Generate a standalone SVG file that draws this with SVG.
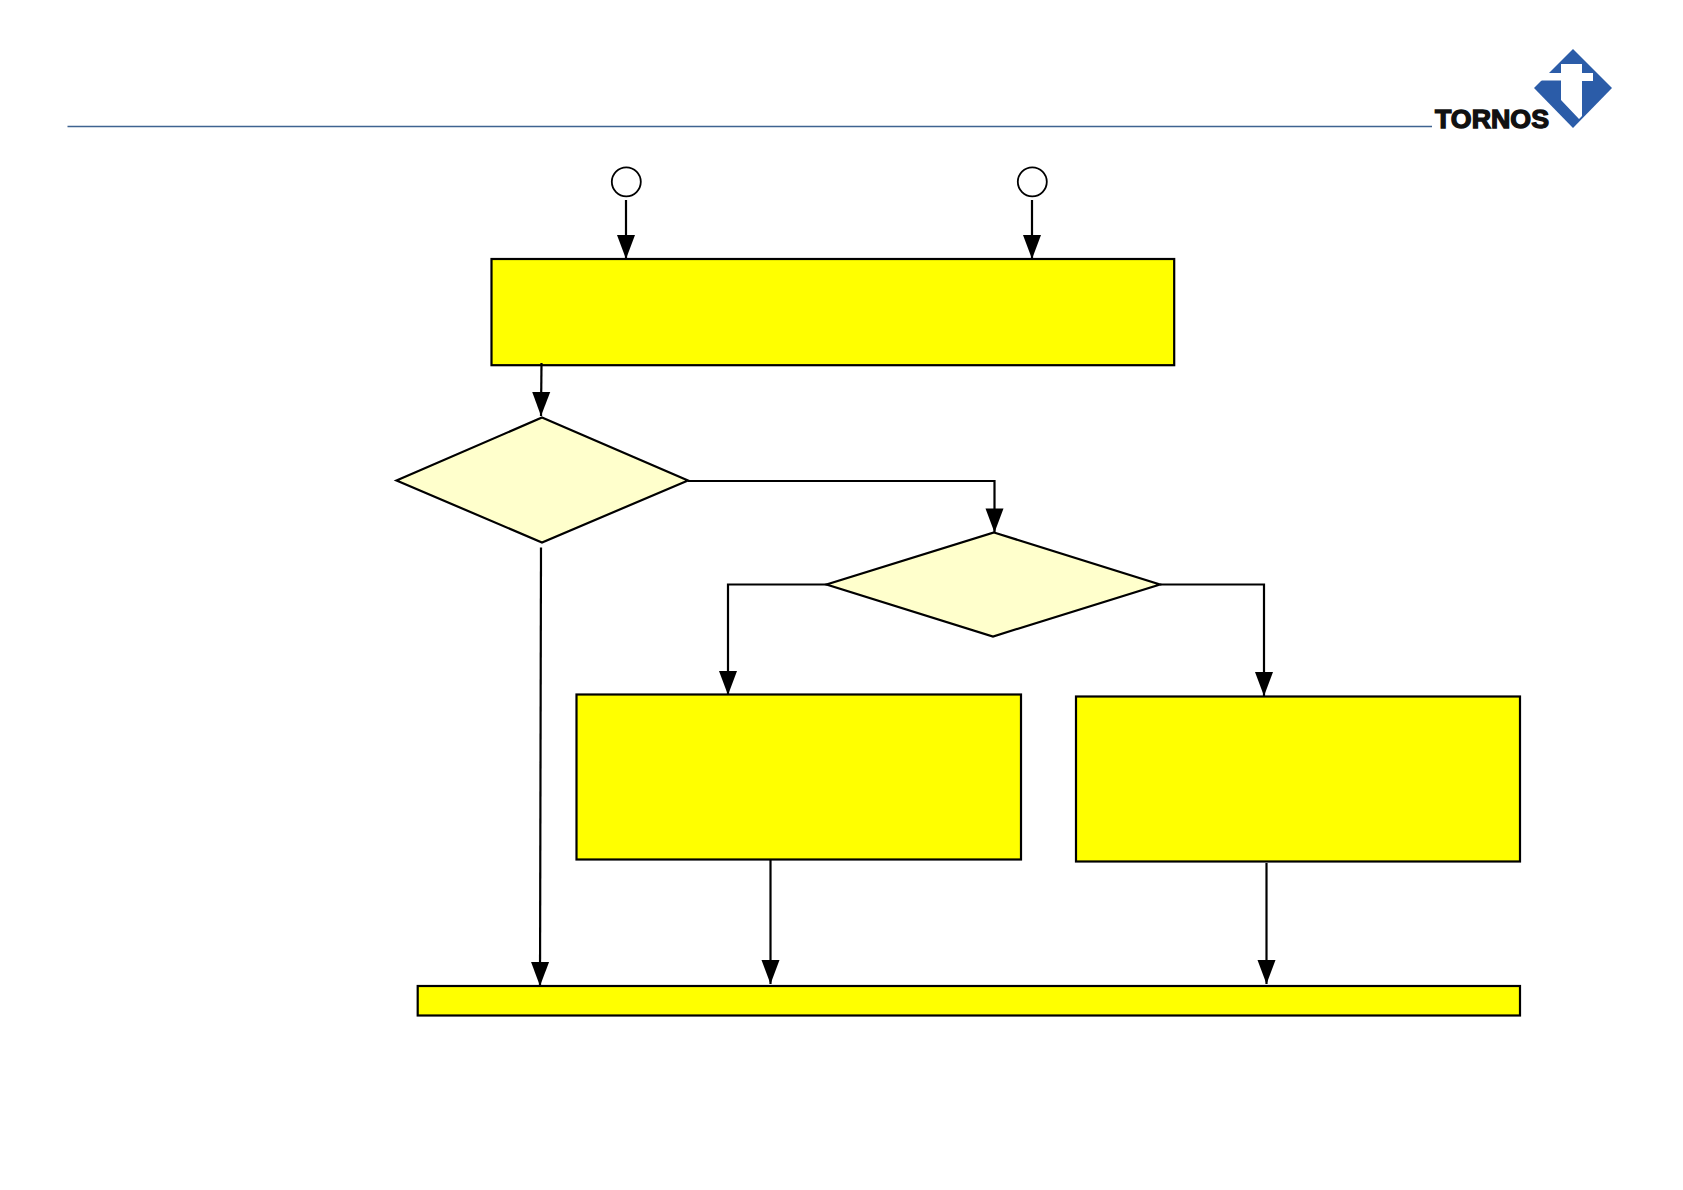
<svg xmlns="http://www.w3.org/2000/svg" width="1683" height="1190" viewBox="0 0 1683 1190">
<style>
.box{fill:#ffff00;stroke:#000;stroke-width:2.2}
.dec{fill:#ffffcc;stroke:#000;stroke-width:2.2;stroke-linejoin:miter}
.term{fill:#fff;stroke:#000;stroke-width:1.8}
.con{fill:none;stroke:#000;stroke-width:2.2;marker-end:url(#ah)}
</style>
<defs>
<marker id="ah" markerUnits="userSpaceOnUse" markerWidth="24" markerHeight="18" refX="24" refY="9" orient="auto" viewBox="0 0 24 18" overflow="visible">
<path d="M0 0L24 9L0 18Z" fill="#000"/>
</marker>
</defs>
<rect width="1683" height="1190" fill="#fff"/>
<g id="header">
<line x1="67.5" y1="126.500" x2="1432" y2="126.500" stroke="#3f6391" stroke-width="1.300"/>
</g>
<g id="logo">
<path d="M1573 49L1612 88L1573 128L1534 88Z" fill="#2b5ca8"/>
<path d="M1561 64H1582V73H1593V81H1582V116L1579 119L1561 100V80.500H1541V80L1548 73H1561Z" fill="#fff"/>
<text x="1435" y="128" font-family="'Liberation Sans',Arial,sans-serif" font-weight="700" font-size="25" textLength="114" lengthAdjust="spacingAndGlyphs" fill="#111" stroke="#111" stroke-width="1.300">TORNOS</text>
</g>
<g id="term-a"><circle class="term" cx="626.300" cy="181.800" r="14.500"/></g>
<g id="term-b"><circle class="term" cx="1032.300" cy="181.800" r="14.500"/></g>
<g id="box-top"><rect class="box" x="491.500" y="259" width="682.700" height="106.200"/></g>
<g id="decision-1"><path class="dec" d="M542 417.500L688 480.500L542 542.500L396.500 480.500Z"/></g>
<g id="decision-2"><path class="dec" d="M994 532.500L1160 584.500L993 636.500L826.500 584.500Z"/></g>
<g id="box-left"><rect class="box" x="576.500" y="694.500" width="444.500" height="165"/></g>
<g id="box-right"><rect class="box" x="1076" y="696.500" width="444" height="165"/></g>
<g id="box-bottom"><rect class="box" x="417.700" y="986" width="1102.300" height="29.500"/></g>
<g id="connectors">
<path class="con" d="M626 200V259"/>
<path class="con" d="M1032 200V259"/>
<path class="con" d="M541.500 363L541 416"/>
<path class="con" d="M688 481H994.500V532.500"/>
<path class="con" d="M827 584.500H728V695"/>
<path class="con" d="M1160 584.500H1264V696"/>
<path class="con" d="M541 547.500L540 986"/>
<path class="con" d="M770.500 859.500V984"/>
<path class="con" d="M1266.500 863V984"/>
</g>
</svg>
